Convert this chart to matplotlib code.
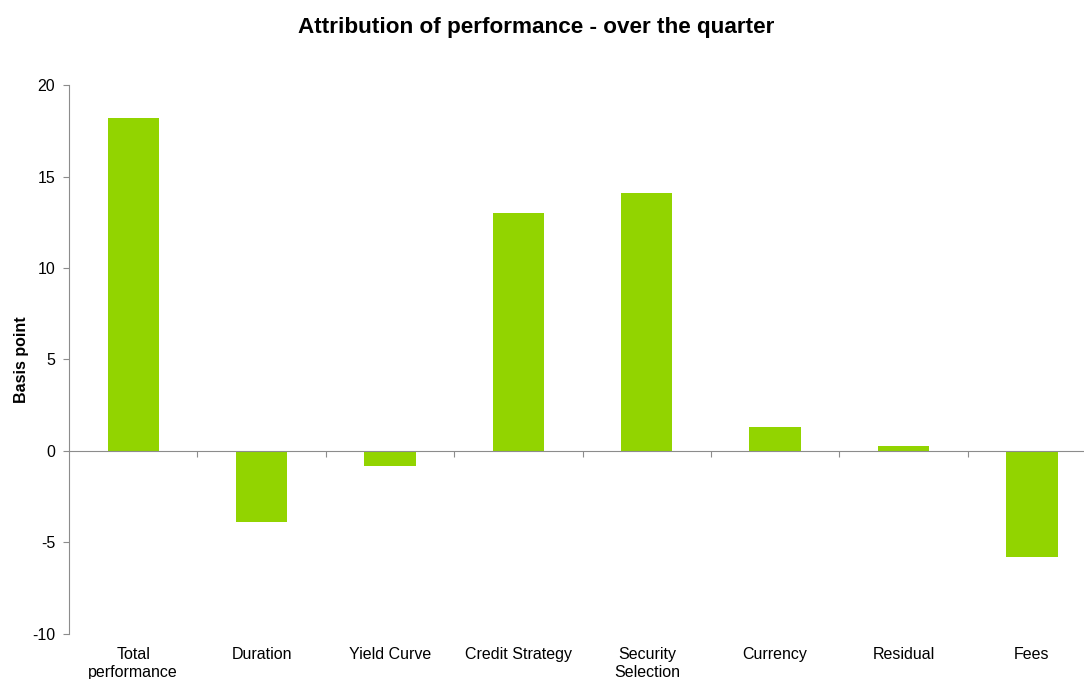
"""Attribution of performance bar chart"""

import numpy as np
from matplotlib import pyplot as plt
from matplotlib.ticker import FixedLocator, NullFormatter

categories = ["Total\nperformance", "Duration", "Yield Curve", "Credit Strategy",
              "Security\nSelection", "Currency", "Residual", "Fees"]
values = [18.2, -3.9, -0.8, 13.0, 14.1, 1.3, 0.3, -5.8]

BAR_COLOR = "#92D400"
AXIS_COLOR = "#8c8c8c"

plt.rcParams["font.family"] = ["Liberation Sans", "DejaVu Sans"]
plt.rcParams["axes.unicode_minus"] = False

fig = plt.figure(figsize=(10.84, 6.79), dpi=100)
ax = fig.add_axes([0.0637, 0.0663, 0.9475, 0.8085])

x = np.arange(len(categories))
ax.bar(x, values, width=0.4, color=BAR_COLOR, zorder=2)

ax.set_xlim(-0.5, len(categories) - 0.5)
ax.set_ylim(-10, 20)
ax.set_yticks(np.arange(-10, 21, 5))
ax.tick_params(axis="y", direction="out", length=4, color=AXIS_COLOR,
               labelsize=11.5, pad=6)

# zero line carries the category boundary ticks
for side in ("top", "right"):
    ax.spines[side].set_visible(False)
ax.spines["left"].set_color(AXIS_COLOR)
ax.spines["bottom"].set_position(("data", 0))
ax.spines["bottom"].set_color(AXIS_COLOR)
ax.xaxis.set_major_locator(FixedLocator(x + 0.5))
ax.xaxis.set_major_formatter(NullFormatter())
ax.tick_params(axis="x", direction="out", length=4, color=AXIS_COLOR)

# category labels sit at the bottom of the plot area
sec = ax.secondary_xaxis("bottom")
sec.set_xticks(x)
sec.set_xticklabels(categories, fontsize=11.5, linespacing=1.25)
sec.tick_params(length=0, pad=9.5)
sec.spines["bottom"].set_visible(False)

ax.set_ylabel("Basis point", fontsize=11.5, fontweight="bold")
ax.yaxis.set_label_coords(-0.039, 0.5)
fig.text(0.495, 0.959, "Attribution of performance - over the quarter",
         fontsize=16.2, fontweight="bold", ha="center", va="center")

fig.savefig("out.png", dpi=100)
